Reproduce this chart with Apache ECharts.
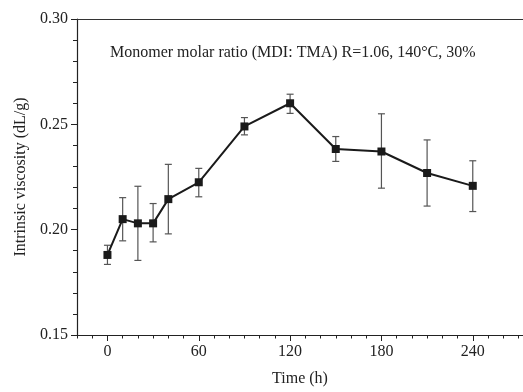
<!DOCTYPE html>
<html>
<head>
<meta charset="utf-8">
<script src="https://cdn.jsdelivr.net/npm/echarts@6/dist/echarts.min.js"></script>
<style>
  html, body { margin: 0; padding: 0; background: #fff; }
  #chart { width: 523px; height: 392px; }
</style>
</head>
<body>
<div id="chart"></div>
<script>
// reaction time (h)
const times = [0, 10, 20, 30, 40, 60, 90, 120, 150, 180, 210, 240]
// intrinsic viscosity (dL/g)
const viscosity = [0.188, 0.205, 0.203, 0.203, 0.2145, 0.2225, 0.249, 0.260, 0.2383, 0.2371, 0.2269, 0.2208]
// error bar ends
const errLow = [0.1835, 0.1947, 0.1854, 0.1942, 0.198, 0.2156, 0.245, 0.2552, 0.2324, 0.2197, 0.2112, 0.2086]
const errHigh = [0.1926, 0.2152, 0.2206, 0.2124, 0.231, 0.2291, 0.2532, 0.2643, 0.2442, 0.255, 0.2426, 0.2327]
const xMajorTicks = [0, 60, 120, 180, 240]
const xMinorTicks = [-20, -10, 10, 20, 30, 40, 50, 70, 80, 90, 100, 110, 130, 140, 150, 160, 170, 190, 200, 210, 220, 230, 250, 260, 270]
const note = 'Monomer molar ratio (MDI: TMA) R=1.06, 140°C, 30%'

const font = 'Liberation Serif'
const chart = echarts.init(document.getElementById('chart'))

const lineData = times.map((t, i) => [t, viscosity[i]])
const errData = times.map((t, i) => [t, errLow[i], errHigh[i]])

chart.setOption({
  animation: false,
  grid: { left: 77, right: 0, top: 19, bottom: 55, containLabel: false },
  xAxis: [
    {
      type: 'value',
      min: -20,
      max: 273,
      name: 'Time (h)',
      nameLocation: 'middle',
      nameGap: 36,
      nameTextStyle: { fontFamily: font, fontSize: 16, color: '#222' },
      axisLine: { onZero: false, lineStyle: { color: '#222', width: 1.2 } },
      axisTick: { customValues: xMajorTicks, length: 6, lineStyle: { color: '#222' } },
      axisLabel: { customValues: xMajorTicks, fontFamily: font, fontSize: 16, color: '#222', margin: 9 },
      splitLine: { show: false }
    },
    {
      type: 'value',
      min: -20,
      max: 273,
      position: 'bottom',
      axisLine: { show: false, onZero: false },
      axisTick: { customValues: xMinorTicks, length: 3.5, lineStyle: { color: '#222' } },
      axisLabel: { show: false },
      splitLine: { show: false }
    },
    {
      type: 'value',
      min: -20,
      max: 273,
      position: 'top',
      axisLine: { onZero: false, lineStyle: { color: '#333', width: 1 } },
      axisTick: { show: false },
      axisLabel: { show: false },
      splitLine: { show: false }
    }
  ],
  yAxis: {
    type: 'value',
    min: 0.15,
    max: 0.30,
    interval: 0.05,
    name: 'Intrinsic viscosity (dL/g)',
    nameLocation: 'middle',
    nameGap: 47,
    nameTextStyle: { fontFamily: font, fontSize: 16, color: '#222' },
    axisLine: { show: true, onZero: false, lineStyle: { color: '#222', width: 1.2 } },
    axisTick: { length: 6, lineStyle: { color: '#222' } },
    minorTick: { show: true, splitNumber: 5, length: 4, lineStyle: { color: '#222' } },
    axisLabel: {
      fontFamily: font, fontSize: 16, color: '#222', margin: 9,
      formatter: v => v.toFixed(2)
    },
    splitLine: { show: false }
  },
  graphic: [
    {
      type: 'text',
      left: 110,
      top: 45,
      style: { text: note, fontFamily: font, fontSize: 16, fill: '#222' }
    }
  ],
  series: [
    {
      type: 'custom',
      xAxisIndex: 0,
      data: errData,
      z: 1,
      renderItem: (params, api) => {
        const lo = api.coord([api.value(0), api.value(1)])
        const hi = api.coord([api.value(0), api.value(2)])
        const cap = 3.5
        const st = { stroke: '#555', lineWidth: 1.2 }
        return {
          type: 'group',
          children: [
            { type: 'line', shape: { x1: lo[0], y1: lo[1], x2: hi[0], y2: hi[1] }, style: st },
            { type: 'line', shape: { x1: lo[0] - cap, y1: lo[1], x2: lo[0] + cap, y2: lo[1] }, style: st },
            { type: 'line', shape: { x1: hi[0] - cap, y1: hi[1], x2: hi[0] + cap, y2: hi[1] }, style: st }
          ]
        }
      }
    },
    {
      type: 'line',
      xAxisIndex: 0,
      data: lineData,
      z: 3,
      symbol: 'rect',
      symbolSize: 8,
      itemStyle: { color: '#1a1a1a' },
      lineStyle: { color: '#1a1a1a', width: 2 }
    }
  ]
})
</script>
</body>
</html>
